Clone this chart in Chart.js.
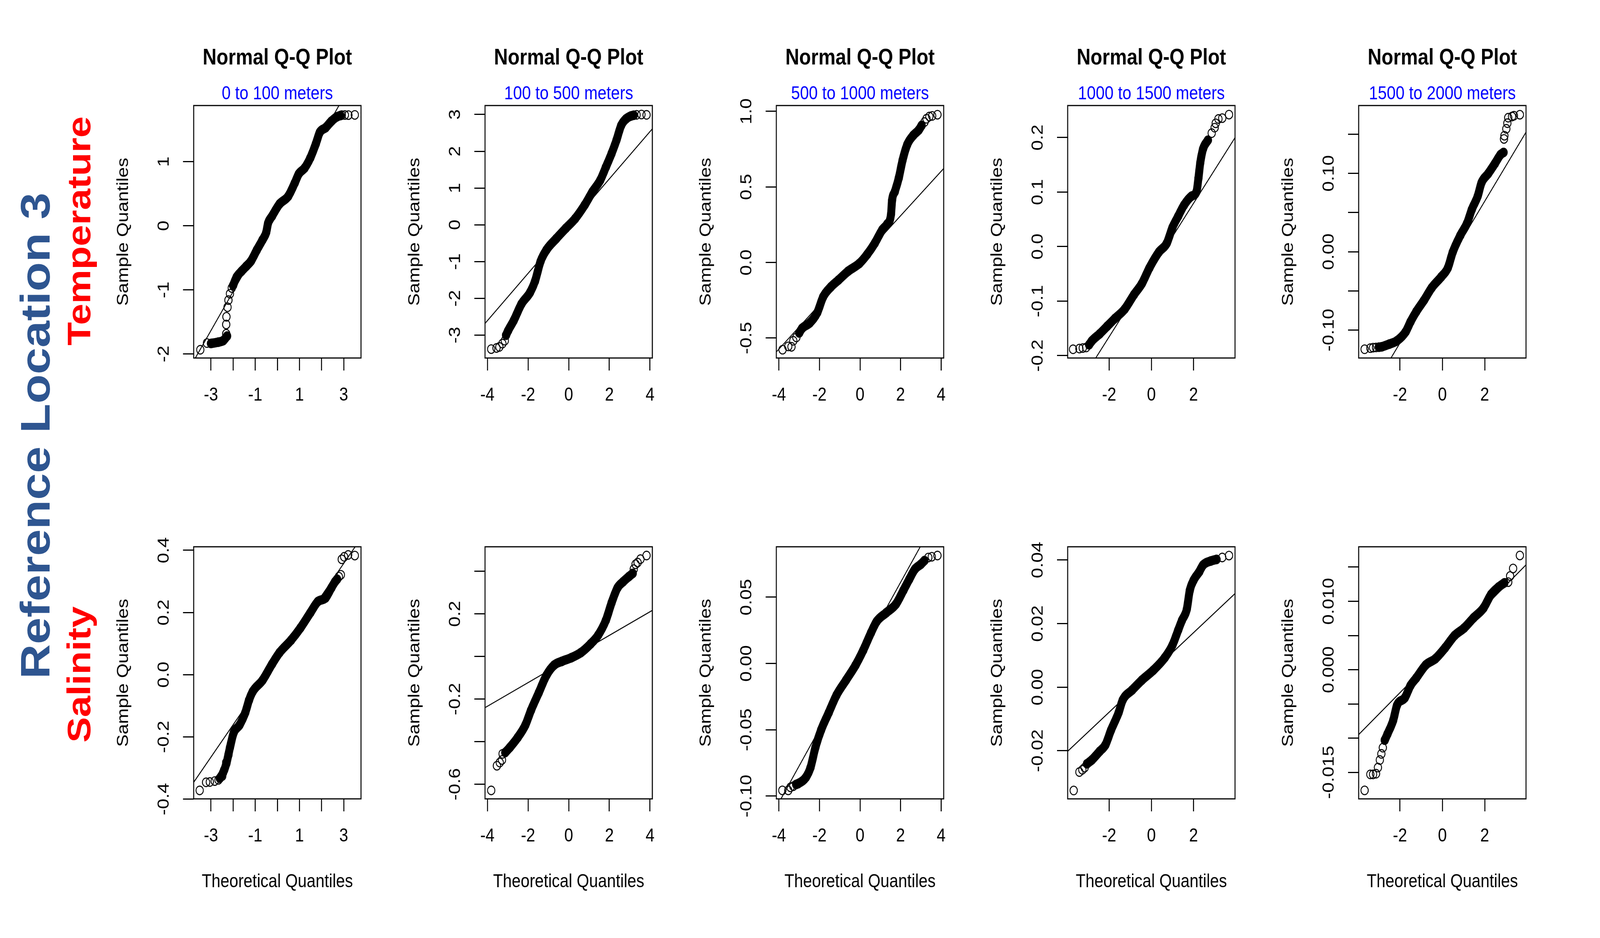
<!DOCTYPE html>
<html>
<head>
<meta charset="utf-8">
<script src="https://cdn.jsdelivr.net/npm/chart.js@4.4.1/dist/chart.umd.min.js"></script>
<style>
  html, body { margin: 0; padding: 0; background: #ffffff; overflow: hidden; width: 100%; height: 100%; }
  #page { position: absolute; left: 0; top: 0; width: 4800px; height: 2400px; overflow: hidden; background: #ffffff;
          transform-origin: 0 0; font-family: "Liberation Sans", Arial, Helvetica, sans-serif; }
  #page canvas { position: absolute; }
  .side { position: absolute; font-weight: bold; white-space: nowrap; line-height: 1;
          transform-origin: 0 0; transform: rotate(-90deg); }
</style>
</head>
<body>
<div id="page">
  <div class="side" style="left:45px; top:1737px; font-size:123px; color:#2E5590;">Reference Location 3</div>
  <div class="side" style="left:188px; top:884px; font-size:98px; color:#FF0000;">Temperature</div>
  <div class="side" style="left:188px; top:1900px; font-size:98px; color:#FF0000;">Salinity</div>
</div>
<script>
// ---------------- categories ----------------
const variables = ['Temperature', 'Salinity'];
const depthRanges = ['0 to 100 meters', '100 to 500 meters', '500 to 1000 meters',
                     '1000 to 1500 meters', '1500 to 2000 meters'];

// ---------------- sample quantiles (theoretical, sample) ----------------
// "Band" = densely overlapping circles (null separates runs); "Tail" = isolated circles.
const tempBand1 = [[-3.0,-1.836],[-2.66,-1.815],[-2.44,-1.79],[-2.27,-1.72], null,
  [-2.0,-0.93],[-1.84,-0.80],[-1.62,-0.71],[-1.40,-0.63],[-1.19,-0.55],[-0.93,-0.38],[-0.67,-0.22],
  [-0.50,-0.10],[-0.42,0.04],[-0.24,0.15],[0.10,0.34],[0.49,0.46],[0.79,0.67],[0.97,0.81],[1.23,0.90],
  [1.49,1.06],[1.74,1.28],[1.92,1.46],[2.18,1.53],[2.44,1.63],[2.69,1.70],[2.85,1.72]];
const tempTail1 = [[-3.48,-1.934],[-3.18,-1.83],[-2.31,-1.685],[-2.31,-1.54],[-2.30,-1.42],[-2.25,-1.27],
  [-2.21,-1.16],[-2.14,-1.06],[-2.06,-0.97],[2.91,1.727],[3.05,1.728],[3.21,1.727],[3.50,1.73]];

const tempBand2 = [[-3.08,-3.0],[-2.98,-2.88],[-2.70,-2.60],[-2.32,-2.15],[-1.90,-1.84],[-1.66,-1.54],
  [-1.38,-0.99],[-1.09,-0.68],[-0.62,-0.38],[-0.15,-0.10],[0.32,0.17],[0.79,0.54],[1.17,0.90],[1.55,1.21],
  [1.83,1.57],[2.11,1.94],[2.35,2.30],[2.58,2.70],[2.82,2.88],[3.06,2.96],[3.20,2.98]];
const tempTail2 = [[-3.81,-3.38],[-3.55,-3.35],[-3.41,-3.32],[-3.26,-3.23],[-3.14,-3.15],
  [3.34,2.99],[3.58,3.0],[3.83,2.99]];

const tempBand3 = [[-3.0,-0.466],[-2.86,-0.436],[-2.48,-0.40],[-2.11,-0.332],[-1.82,-0.228],[-1.44,-0.162],
  [-1.07,-0.117],[-0.59,-0.058],[-0.03,-0.006],[0.35,0.053],[0.73,0.128],[1.10,0.217],[1.34,0.254],
  [1.53,0.32],[1.58,0.41],[1.72,0.47],[1.91,0.558],[2.10,0.677],[2.33,0.78],[2.62,0.84],[2.90,0.877],[3.04,0.907]];
const tempTail3 = [[-3.82,-0.577],[-3.54,-0.555],[-3.38,-0.558],[-3.29,-0.518],[-3.14,-0.496],
  [3.18,0.929],[3.28,0.951],[3.42,0.966],[3.56,0.97],[3.82,0.978]];

const tempBand4 = [[-2.95,-0.18],[-2.82,-0.173],[-2.45,-0.160],[-2.09,-0.146],[-1.73,-0.132],[-1.27,-0.115],
  [-0.82,-0.088],[-0.45,-0.068],[-0.09,-0.039],[0.36,-0.010],[0.73,0.006],[1.0,0.035],[1.27,0.0555],
  [1.55,0.076],[1.91,0.0925],[2.14,0.1007],[2.23,0.125],[2.32,0.154],[2.45,0.179],[2.68,0.195]];
const tempTail4 = [[-3.71,-0.1883],[-3.41,-0.187],[-3.25,-0.186],[-3.09,-0.185],
  [2.86,0.208],[3.0,0.218],[3.05,0.226],[3.18,0.234],[3.36,0.2355],[3.68,0.242]];

const tempBand5 = [[-3.0,-0.1218],[-2.86,-0.1213],[-2.50,-0.1178],[-2.14,-0.1136],[-1.73,-0.1021],
  [-1.50,-0.0892],[-1.23,-0.0764],[-0.87,-0.0621],[-0.51,-0.0463],[-0.05,-0.032],[0.26,-0.0206],
  [0.49,-0.0006],[0.85,0.0209],[1.17,0.0366],[1.39,0.0538],[1.67,0.0709],[1.85,0.0881],[2.16,0.0995],
  [2.48,0.1124],[2.75,0.1239],[2.89,0.1267]];
const tempTail5 = [[-3.67,-0.1244],[-3.40,-0.1230],[-3.27,-0.1224],[-3.13,-0.1221],
  [2.91,0.1439],[2.93,0.148],[3.02,0.1568],[3.07,0.164],[3.11,0.171],[3.29,0.1725],[3.38,0.1735],[3.66,0.1748]];

const salBand1 = [[-2.60,-0.333],[-2.45,-0.315],[-2.30,-0.285],[-2.14,-0.234],[-1.97,-0.186],[-1.71,-0.162],
  [-1.45,-0.122],[-1.28,-0.082],[-1.11,-0.054],[-0.67,-0.018],[-0.24,0.034],[0.10,0.071],[0.62,0.111],
  [1.05,0.151],[1.49,0.199],[1.83,0.235],[2.18,0.247],[2.44,0.279],[2.61,0.299],[2.70,0.307]];
const salTail1 = [[-3.51,-0.372],[-3.22,-0.346],[-3.05,-0.345],[-2.83,-0.342],[-2.66,-0.338],[-2.49,-0.326],
  [-2.40,-0.306],[-2.31,-0.282],[-2.21,-0.258],[2.78,0.315],[2.87,0.321],[2.91,0.371],[3.02,0.379],
  [3.20,0.385],[3.50,0.383]];

const salBand2 = [[-3.12,-0.451],[-2.89,-0.427],[-2.51,-0.381],[-2.13,-0.322],[-1.85,-0.252],[-1.47,-0.170],
  [-1.09,-0.088],[-0.72,-0.041],[-0.34,-0.023],[0.13,-0.006],[0.60,0.018],[1.08,0.059],[1.45,0.10],
  [1.83,0.17],[2.11,0.252],[2.40,0.322],[2.68,0.351],[2.96,0.375],[3.15,0.39]];
const salTail2 = [[-3.81,-0.629],[-3.53,-0.513],[-3.39,-0.498],[-3.28,-0.486],[-3.25,-0.457],
  [3.20,0.41],[3.29,0.433],[3.39,0.441],[3.53,0.457],[3.83,0.474]];

const salBand3 = [[-3.15,-0.0912],[-3.05,-0.0906],[-2.67,-0.0859],[-2.44,-0.0784],[-2.20,-0.0633],
  [-1.92,-0.0502],[-1.54,-0.0370],[-1.16,-0.0239],[-0.69,-0.0126],[-0.22,-0.0013],[0.16,0.0100],
  [0.54,0.0231],[0.82,0.0316],[1.29,0.0382],[1.77,0.0447],[2.14,0.0551],[2.43,0.0635],[2.71,0.0711],
  [3.0,0.0748],[3.18,0.0776]];
const salTail3 = [[-3.83,-0.0957],[-3.54,-0.0957],[-3.43,-0.0934],[-3.29,-0.0925],
  [3.37,0.0799],[3.54,0.0805],[3.82,0.0814]];

const salBand4 = [[-3.05,-0.0241],[-2.82,-0.0229],[-2.45,-0.0202],[-2.18,-0.0182],[-1.91,-0.0135],
  [-1.55,-0.0080],[-1.36,-0.0041],[-0.91,-0.0009],[-0.45,0.0022],[0.09,0.0053],[0.64,0.0093],[1.0,0.0132],
  [1.27,0.0179],[1.45,0.0210],[1.68,0.0245],[1.82,0.0304],[2.0,0.0336],[2.27,0.0363],[2.45,0.0384],
  [2.82,0.0397],[3.09,0.0402]];
const salTail4 = [[-3.68,-0.0325],[-3.41,-0.0267],[-3.27,-0.026],[-3.16,-0.0253],[3.36,0.0408],[3.68,0.0414]];

const salBand5 = [[-2.72,-0.0103],[-2.59,-0.0094],[-2.32,-0.0074],[-2.14,-0.0052],[-1.77,-0.0041],
  [-1.50,-0.0023],[-1.23,-0.0012],[-0.78,0.0007],[-0.33,0.0016],[0.13,0.0032],[0.58,0.0050],[1.03,0.0061],
  [1.48,0.0076],[1.94,0.0090],[2.30,0.0110],[2.66,0.0121],[2.93,0.0127]];
const salTail5 = [[-3.67,-0.01764],[-3.40,-0.0153],[-3.27,-0.0153],[-3.13,-0.0152],[-3.04,-0.0143],
  [-2.95,-0.0132],[-2.88,-0.0123],[-2.81,-0.0114],[3.11,0.0128],[3.20,0.0137],[3.34,0.0148],[3.66,0.0167]];

// ---------------- reference lines (qqline): intercept and slope per panel ----------------
const qqIntercept = [0.186, -0.037, 0.015, -0.043, -0.026, 0.0464, -0.0119, 0.0058, 0.00463, 0.00292];
const qqSlope     = [0.607, 0.643, 0.147, 0.0612, 0.0452, 0.1038, 0.0555, 0.02767, 0.006255, 0.00314];

// ---------------- axis limits ----------------
const xMin = [-3.78, -4.115, -4.127, -3.965, -3.95, -3.78, -4.115, -4.127, -3.965, -3.95];
const xMax = [ 3.78,  4.115,  4.127,  3.965,  3.95,  3.78,  4.115,  4.127,  3.965,  3.95];
const yMin = [-2.063, -3.622, -0.632, -0.2043, -0.1356, -0.3992, -0.6686, -0.1021, -0.03514, -0.01888];
const yMax = [ 1.876,  3.244,  1.0386, 0.2586,  0.1865,  0.4112,  0.515,   0.088,   0.04416,  0.01797];

// ---------------- tick values and labels ('' = tick without label) ----------------
const xTickValues = [
  [-3,-2,-1,0,1,2,3], [-4,-2,0,2,4], [-4,-2,0,2,4], [-2,0,2], [-2,0,2],
  [-3,-2,-1,0,1,2,3], [-4,-2,0,2,4], [-4,-2,0,2,4], [-2,0,2], [-2,0,2]];
const xTickLabels = [
  ['-3','','-1','','1','','3'], ['-4','-2','0','2','4'], ['-4','-2','0','2','4'], ['-2','0','2'], ['-2','0','2'],
  ['-3','','-1','','1','','3'], ['-4','-2','0','2','4'], ['-4','-2','0','2','4'], ['-2','0','2'], ['-2','0','2']];
const yTickValues = [
  [-2,-1,0,1], [-3,-2,-1,0,1,2,3], [-0.5,0,0.5,1.0], [-0.2,-0.1,0,0.1,0.2], [-0.10,-0.05,0,0.05,0.10,0.15],
  [-0.4,-0.2,0,0.2,0.4], [-0.6,-0.4,-0.2,0,0.2,0.4], [-0.10,-0.05,0,0.05], [-0.02,0,0.02,0.04],
  [-0.015,-0.010,-0.005,0,0.005,0.010,0.015]];
const yTickLabels = [
  ['-2','-1','0','1'], ['-3','-2','-1','0','1','2','3'], ['-0.5','0.0','0.5','1.0'],
  ['-0.2','-0.1','0.0','0.1','0.2'], ['-0.10','','0.00','','0.10',''],
  ['-0.4','-0.2','0.0','0.2','0.4'], ['-0.6','','-0.2','','0.2',''], ['-0.10','-0.05','0.00','0.05'],
  ['-0.02','0.00','0.02','0.04'], ['-0.015','','','0.000','','0.010','']];

const bands = [tempBand1, tempBand2, tempBand3, tempBand4, tempBand5, salBand1, salBand2, salBand3, salBand4, salBand5];
const tails = [tempTail1, tempTail2, tempTail3, tempTail4, tempTail5, salTail1, salTail2, salTail3, salTail4, salTail5];

// ---------------- layout (pixels, in a 4800 x 2400 design space) ----------------
const DESIGN_W = 4800, DESIGN_H = 2400;
const BOX_LEFT = [581, 1455, 2329, 3203, 4076];
const BOX_W = 502;
const BOX_TOP = [270, 1399];
const BOX_H = [646, 645];
const ROW_H = 1200;
const SIDE = 300, Y_AXIS_W = 260, X_AXIS_H = 260, TICK_LEN = 32;
const X_LABEL_OFFSET = 96, Y_LABEL_OFFSET = 88, X_TITLE_OFFSET = 213, Y_TITLE_OFFSET = 210;
const LW = 3, PT_R = 11, PT_LW = 2.6, BAND_W = 24;
const FONT = '"Liberation Sans", Arial, Helvetica, sans-serif';

Chart.defaults.font.family = FONT;
Chart.defaults.font.size = 48;
Chart.defaults.color = '#000000';

const mctx = document.createElement('canvas').getContext('2d');
function textWidth(t, size) { mctx.font = 'normal ' + size + 'px ' + FONT; return mctx.measureText(t).width; }

const framePlugin = {
  id: 'frame',
  afterDatasetsDraw(chart) {
    const { ctx, chartArea: a } = chart;
    ctx.save();
    ctx.strokeStyle = '#000000';
    ctx.lineWidth = LW;
    ctx.strokeRect(a.left, a.top, a.right - a.left, a.bottom - a.top);
    ctx.restore();
  }
};

const page = document.getElementById('page');

// fit the 4800x2400 design to whatever viewport the page is shown in
function fitPage() {
  const vw = window.innerWidth || DESIGN_W, vh = window.innerHeight || DESIGN_H;
  page.style.transform = 'scale(' + (vw / DESIGN_W) + ',' + (vh / DESIGN_H) + ')';
}
fitPage();
window.addEventListener('resize', fitPage);

function buildPanel(i) {
  const row = Math.floor(i / 5), col = i % 5;
  const canvasTop = row * ROW_H;
  const boxTopRel = BOX_TOP[row] - canvasTop, boxH = BOX_H[row];
  const cw = BOX_W + 2 * SIDE, ch = ROW_H;
  const canvas = document.createElement('canvas');
  canvas.width = cw; canvas.height = ch;
  canvas.style.left = (BOX_LEFT[col] - SIDE) + 'px';
  canvas.style.top = canvasTop + 'px';
  canvas.style.width = cw + 'px';
  canvas.style.height = ch + 'px';
  page.appendChild(canvas);

  const widest = Math.max(...yTickLabels[i].map(t => textWidth(t, 48)));
  const yPad = Y_LABEL_OFFSET - TICK_LEN - widest / 2;

  const pointStyle = {
    pointRadius: PT_R, pointBorderWidth: PT_LW, pointStyle: 'circle',
    pointBackgroundColor: 'rgba(0,0,0,0)', pointBorderColor: '#000000'
  };
  const datasets = [];
  let seg = [];
  const flush = () => {
    if (seg.length) {
      datasets.push(Object.assign({
        type: 'line', data: seg, showLine: true, borderColor: '#000000', borderWidth: BAND_W,
        borderCapStyle: 'round', borderJoinStyle: 'round', cubicInterpolationMode: 'monotone'
      }, pointStyle));
    }
    seg = [];
  };
  bands[i].forEach(p => { if (p === null) flush(); else seg.push({ x: p[0], y: p[1] }); });
  flush();
  datasets.push(Object.assign({
    type: 'line', data: tails[i].map(p => ({ x: p[0], y: p[1] })), showLine: false
  }, pointStyle));
  datasets.push({
    type: 'line',
    data: [xMin[i], xMax[i]].map(x => ({ x: x, y: qqIntercept[i] + qqSlope[i] * x })),
    borderColor: '#000000', borderWidth: 2.6, pointRadius: 0, clip: 0
  });

  new Chart(canvas, {
    type: 'line',
    data: { datasets },
    options: {
      responsive: false, maintainAspectRatio: false, animation: false, devicePixelRatio: 1, events: [],
      layout: { padding: { left: SIDE - Y_AXIS_W, right: SIDE,
                           top: row === 0 ? 0 : boxTopRel,
                           bottom: ch - boxTopRel - boxH - X_AXIS_H } },
      plugins: {
        legend: { display: false },
        tooltip: { enabled: false },
        title: { display: row === 0, text: 'Normal Q-Q Plot', fullSize: false, color: '#000000',
                 font: { size: 57.6, weight: 'bold' }, padding: { top: 114.4, bottom: 0 } },
        subtitle: { display: row === 0, text: depthRanges[col], fullSize: false, color: '#0000FF',
                    font: { size: 48 }, padding: { top: 28.7, bottom: 0.2 } }
      },
      scales: {
        x: {
          type: 'linear', position: 'bottom', min: xMin[i], max: xMax[i], bounds: 'data',
          afterBuildTicks: s => { s.ticks = xTickValues[i].map(v => ({ value: v })); },
          afterFit: s => { s.height = X_AXIS_H; },
          ticks: { autoSkip: false, minRotation: 0, maxRotation: 0, color: '#000000', font: { size: 48 },
                   padding: X_LABEL_OFFSET - TICK_LEN - 28.8,
                   callback: (v, idx) => xTickLabels[i][idx] },
          grid: { display: true, drawOnChartArea: false, drawTicks: true, tickLength: TICK_LEN,
                  color: '#000000', lineWidth: LW },
          border: { display: false },
          title: { display: row === 1, text: 'Theoretical Quantiles', color: '#000000', font: { size: 48 },
                   padding: { top: 0, bottom: X_AXIS_H - X_TITLE_OFFSET - 28.8 } }
        },
        y: {
          type: 'linear', position: 'left', min: yMin[i], max: yMax[i], bounds: 'data',
          afterBuildTicks: s => { s.ticks = yTickValues[i].map(v => ({ value: v })); },
          afterFit: s => { s.width = Y_AXIS_W; },
          ticks: { autoSkip: false, minRotation: 90, maxRotation: 90, crossAlign: 'center',
                   color: '#000000', font: { size: 48 }, padding: yPad,
                   callback: (v, idx) => yTickLabels[i][idx] },
          grid: { display: true, drawOnChartArea: false, drawTicks: true, tickLength: TICK_LEN,
                  color: '#000000', lineWidth: LW },
          border: { display: false },
          title: { display: true, text: 'Sample Quantiles', color: '#000000', font: { size: 48 },
                   padding: { top: Y_AXIS_W - Y_TITLE_OFFSET - 28.8, bottom: 0 } }
        }
      }
    },
    plugins: [framePlugin]
  });
}

for (let i = 0; i < 10; i++) buildPanel(i);
</script>
</body>
</html>
